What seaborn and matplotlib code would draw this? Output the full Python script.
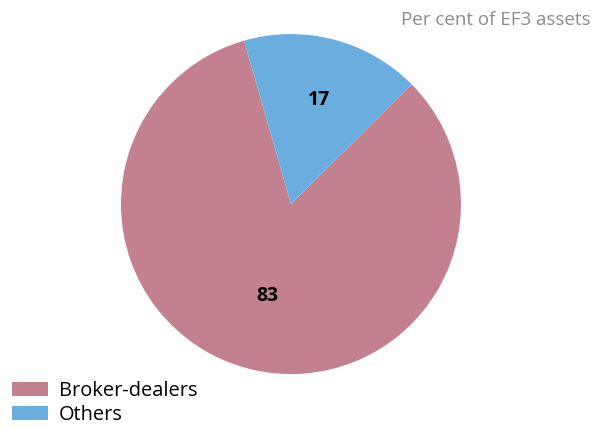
import matplotlib
matplotlib.use("Agg")
import numpy as np
import matplotlib.pyplot as plt
import seaborn as sns
from matplotlib.patches import Patch

categories = ["Broker-dealers", "Others"]
values = [83, 17]
colors = ["#C3808F", "#6AAEE0"]
subtitle = "Per cent of EF3 assets"
label_dist = [0.545, 0.645]

sns.set_theme(style="white")
plt.rcParams['font.family'] = ['Open Sans', 'DejaVu Sans']

fig = plt.figure(figsize=(5.93, 4.28), dpi=100)
ax = fig.add_axes([0.204, 0.126, 0.5734, 0.7944])
wedges, texts, autotexts = ax.pie(values, colors=colors, startangle=106, counterclock=True,
                                  autopct=lambda p: f"{p:.0f}", pctdistance=0.6,
                                  wedgeprops=dict(linewidth=0),
                                  textprops=dict(fontsize=14, fontweight='bold', color='black'))
for w, t, d in zip(wedges, autotexts, label_dist):
    ang = np.deg2rad((w.theta1 + w.theta2) / 2)
    t.set_position((d * np.cos(ang), d * np.sin(ang)))
    t.set_va('center_baseline')
ax.set_xlim(-1, 1)
ax.set_ylim(-1, 1)
ax.set_aspect('equal')
ax.axis('off')

fig.text(0.995, 0.953, subtitle, ha='right', va='center', fontsize=13.5, color='#8C8C8C')

handles = [Patch(facecolor=c, edgecolor='none') for c in colors]
leg = fig.legend(handles, categories, loc='upper left', bbox_to_anchor=(0.02, 0.11),
                 frameon=False, handlelength=1.8, handleheight=0.65,
                 handletextpad=0.55, labelspacing=0.2, borderaxespad=0, borderpad=0,
                 prop=dict(size=14.4, weight='medium'))
for t in leg.get_texts():
    t.set_color('black')

fig.savefig("out.png", dpi=100)
